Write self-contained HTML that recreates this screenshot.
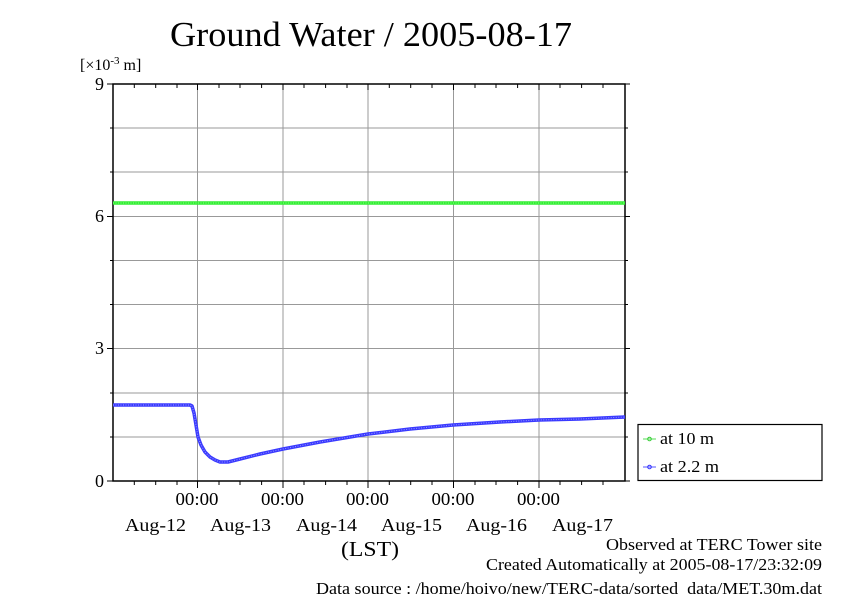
<!DOCTYPE html>
<html><head><meta charset="utf-8"><style>
html,body{margin:0;padding:0;background:#fff;}
svg{display:block;font-family:"Liberation Serif",serif;}
</style></head><body>
<svg width="842" height="595" viewBox="0 0 842 595" xmlns="http://www.w3.org/2000/svg">
<rect width="842" height="595" fill="#fff"/>
<text x="170" y="46" font-size="35" textLength="402" lengthAdjust="spacingAndGlyphs">Ground Water / 2005-08-17</text>
<text x="80" y="70" font-size="16">[×10<tspan font-size="11" dy="-6">-3</tspan><tspan dy="6"> m]</tspan></text>
<g stroke="#999" stroke-width="1">
<line x1="113" y1="128" x2="625" y2="128"/><line x1="113" y1="172" x2="625" y2="172"/>
<line x1="113" y1="216.5" x2="625" y2="216.5"/><line x1="113" y1="260.5" x2="625" y2="260.5"/>
<line x1="113" y1="304.5" x2="625" y2="304.5"/><line x1="113" y1="348.5" x2="625" y2="348.5"/>
<line x1="113" y1="393" x2="625" y2="393"/><line x1="113" y1="437" x2="625" y2="437"/>
<line x1="197.5" y1="84" x2="197.5" y2="481"/><line x1="283" y1="84" x2="283" y2="481"/>
<line x1="368" y1="84" x2="368" y2="481"/><line x1="453.5" y1="84" x2="453.5" y2="481"/>
<line x1="539" y1="84" x2="539" y2="481"/>
</g>
<g stroke="#000" stroke-width="1">
<path d="M113 84V481H625V84Z" fill="none" stroke-width="1.5"/>
<path d="M113 84h-6M113 216.5h-6M113 348.5h-6M113 481h-6M625 84h5M625 216.5h5M625 348.5h5M625 481h5"/>
<path d="M113 128h-3M113 172h-3M113 260.5h-3M113 304.5h-3M113 393h-3M113 437h-3M625 128h3M625 172h3M625 260.5h3M625 304.5h3M625 393h3M625 437h3"/>
<path d="M134.3 84v4M155.7 84v4M177 84v4M219 84v4M240 84v4M261.6 84v4M304 84v4M325.6 84v4M347 84v4M389.3 84v4M410.7 84v4M432 84v4M475 84v4M496 84v4M517.6 84v4M560 84v4M581.6 84v4M603 84v4"/>
<path d="M197.5 84v6M283 84v6M368 84v6M453.5 84v6M539 84v6"/>
<path d="M134.3 481v4M155.7 481v4M177 481v4M219 481v4M240 481v4M261.6 481v4M304 481v4M325.6 481v4M347 481v4M389.3 481v4M410.7 481v4M432 481v4M475 481v4M496 481v4M517.6 481v4M560 481v4M581.6 481v4M603 481v4"/>
<path d="M197.5 481v7M283 481v7M368 481v7M453.5 481v7M539 481v7"/>
</g>
<g font-size="18" text-anchor="end">
<text x="104" y="90">9</text><text x="104" y="222">6</text><text x="104" y="354">3</text><text x="104" y="487">0</text>
</g>
<g font-size="18">
<text x="175.5" y="505" textLength="43" lengthAdjust="spacingAndGlyphs">00:00</text>
<text x="261" y="505" textLength="43" lengthAdjust="spacingAndGlyphs">00:00</text>
<text x="346" y="505" textLength="43" lengthAdjust="spacingAndGlyphs">00:00</text>
<text x="431.5" y="505" textLength="43" lengthAdjust="spacingAndGlyphs">00:00</text>
<text x="517" y="505" textLength="43" lengthAdjust="spacingAndGlyphs">00:00</text>
<text x="125" y="531" textLength="61" lengthAdjust="spacingAndGlyphs">Aug-12</text>
<text x="210" y="531" textLength="61" lengthAdjust="spacingAndGlyphs">Aug-13</text>
<text x="296" y="531" textLength="61" lengthAdjust="spacingAndGlyphs">Aug-14</text>
<text x="381" y="531" textLength="61" lengthAdjust="spacingAndGlyphs">Aug-15</text>
<text x="466" y="531" textLength="61" lengthAdjust="spacingAndGlyphs">Aug-16</text>
<text x="552" y="531" textLength="61" lengthAdjust="spacingAndGlyphs">Aug-17</text>
<text x="341" y="556" font-size="21" textLength="58" lengthAdjust="spacingAndGlyphs">(LST)</text>
</g>
<line x1="113" y1="203" x2="625" y2="203" stroke="#33ee33" stroke-width="3.5"/>
<line x1="113" y1="203" x2="625" y2="203" stroke="#88ff88" stroke-width="1" stroke-dasharray="1 1.5"/>
<path d="M113 405L190 405L192 406L194 413L196 425L198 437L201 445L205 452L210 457L215 460L220 462L228 462L240 459L260 454L283 449L320 442L368 434L410 429L453 425L500 422L539 420L580 419L625 417" fill="none" stroke="#3a3aff" stroke-width="3.5" stroke-linejoin="round"/>
<path d="M113 405L190 405L192 406L194 413L196 425L198 437L201 445L205 452L210 457L215 460L220 462L228 462L240 459L260 454L283 449L320 442L368 434L410 429L453 425L500 422L539 420L580 419L625 417" fill="none" stroke="#9999ff" stroke-width="1" stroke-dasharray="1 1.5"/>
<rect x="638" y="424.5" width="184" height="56" fill="#fff" stroke="#000" stroke-width="1.2"/>
<line x1="643" y1="439" x2="656" y2="439" stroke="#55dd55"/><circle cx="649.5" cy="439" r="1.8" fill="none" stroke="#33cc33"/>
<line x1="643" y1="467" x2="656" y2="467" stroke="#5555ff"/><circle cx="649.5" cy="467" r="1.8" fill="none" stroke="#3333ff"/>
<text x="660" y="444" font-size="17" textLength="54" lengthAdjust="spacingAndGlyphs">at 10 m</text>
<text x="660" y="472" font-size="17" textLength="59" lengthAdjust="spacingAndGlyphs">at 2.2 m</text>
<g font-size="17">
<text x="606" y="550" textLength="216" lengthAdjust="spacingAndGlyphs">Observed at TERC Tower site</text>
<text x="486" y="570" textLength="336" lengthAdjust="spacingAndGlyphs">Created Automatically at 2005-08-17/23:32:09</text>
<text x="316" y="594" textLength="506" lengthAdjust="spacingAndGlyphs">Data source : /home/hoivo/new/TERC-data/sorted_data/MET.30m.dat</text>
</g>
</svg>
</body></html>
